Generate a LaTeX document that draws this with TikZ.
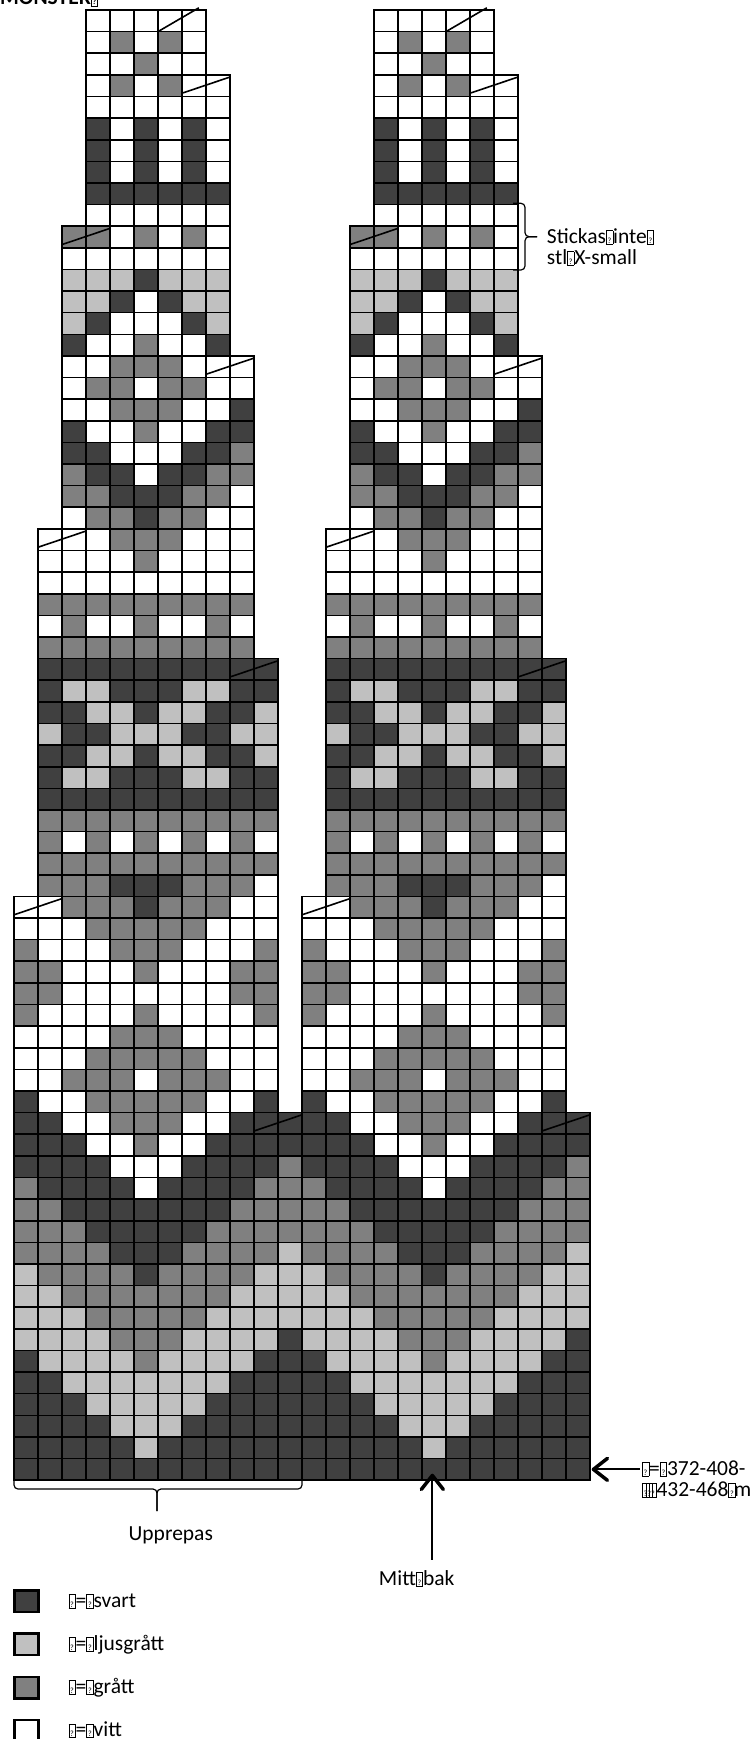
\documentclass[tikz,border=0pt]{standalone}
\usepackage{fontspec}
\setmainfont{Carlito}
\usetikzlibrary{arrows.meta,calc}
\definecolor{cD}{RGB}{64,64,64}
\definecolor{cG}{RGB}{128,128,128}
\definecolor{cL}{RGB}{192,192,192}
\definecolor{cW}{RGB}{255,255,255}
\newcommand{\qb}{{\setlength{\fboxsep}{0.5pt}\setlength{\fboxrule}{0.6pt}\fbox{\makebox[5pt]{\rule{0pt}{12pt}\fontsize{8}{8}\selectfont ?}}}}
\newcommand{\lblfont}{\fontsize{21.5}{21}\selectfont}

\begin{document}
\begin{tikzpicture}[x=1pt, y=-1pt,
  cell/.style={draw=black, line width=1.6pt},
  diag/.style={line width=1.6pt},
  lbl/.style={font=\lblfont, inner sep=0pt, align=left},
  brc/.style={line width=1.2pt, rounded corners=4pt},
  arr/.style={line width=2pt, -{Straight Barb[length=14pt, width=22pt, line width=3.5pt, round]}},
  keybox/.style={draw, line width=2.5pt, minimum width=24pt, minimum height=21.5pt, inner sep=0pt}]
\useasboundingbox (0,0) rectangle (753,1739);
\node[lbl, anchor=base west, font=\lblfont\bfseries] (title) at (0,5) {MÖNSTER\qb};
\begin{scope}[shift={(14,10)}, x=24pt, y=-21.62pt]
  \foreach \rep in {0,12}{
    \foreach \ri/\ci/\cells in {
      0/3/{W,W,W,W,W}, 1/3/{W,G,W,G,W}, 2/3/{W,W,G,W,W},
      3/3/{W,G,W,G,W,W}, 4/3/{W,W,W,W,W,W}, 5/3/{D,W,D,W,D,W},
      6/3/{D,W,D,W,D,W}, 7/3/{D,W,D,W,D,W}, 8/3/{D,D,D,D,D,D},
      9/3/{W,W,W,W,W,W},
      10/2/{G,G,W,G,W,G,W}, 11/2/{W,W,W,W,W,W,W}, 12/2/{L,L,L,D,L,L,L},
      13/2/{L,L,D,W,D,L,L}, 14/2/{L,D,W,W,W,D,L}, 15/2/{D,W,W,G,W,W,D},
      16/2/{W,W,G,G,G,W,W,W}, 17/2/{W,G,G,W,G,G,W,W}, 18/2/{W,W,G,G,G,W,W,D},
      19/2/{D,W,W,G,W,W,D,D}, 20/2/{D,D,W,W,W,D,D,G}, 21/2/{G,D,D,W,D,D,G,G},
      22/2/{G,G,D,D,D,G,G,W}, 23/2/{W,G,G,D,G,G,W,W},
      24/1/{W,W,W,G,G,G,W,W,W}, 25/1/{W,W,W,W,G,W,W,W,W},
      26/1/{W,W,W,W,W,W,W,W,W}, 27/1/{G,G,G,G,G,G,G,G,G},
      28/1/{W,G,W,W,G,W,W,G,W}, 29/1/{G,G,G,G,G,G,G,G,G},
      30/1/{D,D,D,D,D,D,D,D,D,D}, 31/1/{D,L,L,D,D,D,L,L,D,D},
      32/1/{D,D,L,L,D,L,L,D,D,L}, 33/1/{L,D,D,L,L,L,D,D,L,L},
      34/1/{D,D,L,L,D,L,L,D,D,L}, 35/1/{D,L,L,D,D,D,L,L,D,D},
      36/1/{D,D,D,D,D,D,D,D,D,D}, 37/1/{G,G,G,G,G,G,G,G,G,G},
      38/1/{G,W,G,W,G,W,G,W,G,W}, 39/1/{G,G,G,G,G,G,G,G,G,G},
      40/1/{G,G,G,D,D,D,G,G,G,W},
      41/0/{W,W,G,G,G,D,G,G,G,W,W}, 42/0/{W,W,W,G,G,G,G,G,W,W,W},
      43/0/{G,W,W,W,G,G,G,W,W,W,G}, 44/0/{G,G,W,W,W,G,W,W,W,G,G},
      45/0/{G,G,W,W,W,W,W,W,W,G,G}, 46/0/{G,W,W,W,W,G,W,W,W,W,G},
      47/0/{W,W,W,W,G,G,G,W,W,W,W}, 48/0/{W,W,W,G,G,G,G,G,W,W,W},
      49/0/{W,W,G,G,G,W,G,G,G,W,W}, 50/0/{D,W,W,G,G,G,G,G,W,W,D},
      51/0/{D,D,W,W,G,G,G,W,W,D,D,D}, 52/0/{D,D,D,W,W,G,W,W,D,D,D,D},
      53/0/{D,D,D,D,W,W,W,D,D,D,D,G}, 54/0/{G,D,D,D,D,W,D,D,D,D,G,G},
      55/0/{G,G,D,D,D,D,D,D,D,G,G,G}, 56/0/{G,G,G,D,D,D,D,D,G,G,G,G},
      57/0/{G,G,G,G,D,D,D,G,G,G,G,L}, 58/0/{L,G,G,G,G,D,G,G,G,G,L,L},
      59/0/{L,L,G,G,G,G,G,G,G,L,L,L}, 60/0/{L,L,L,G,G,G,G,G,L,L,L,L},
      61/0/{L,L,L,L,G,G,G,L,L,L,L,D}, 62/0/{D,L,L,L,L,G,L,L,L,L,D,D},
      63/0/{D,D,L,L,L,L,L,L,L,D,D,D}, 64/0/{D,D,D,L,L,L,L,L,D,D,D,D},
      65/0/{D,D,D,D,L,L,L,D,D,D,D,D}, 66/0/{D,D,D,D,D,L,D,D,D,D,D,D},
      67/0/{D,D,D,D,D,D,D,D,D,D,D,D}}{
      \foreach \clr [count=\n from 0] in \cells
        \filldraw[cell, fill=c\clr] ({\rep+\ci+\n},\ri) rectangle ++(1,1);}
    \draw[diag] (\rep+6,1) -- (\rep+7.7,-0.1);
    \foreach \ci/\ri in {7/3, 2/10, 8/16, 1/24, 9/30, 0/41, 10/51}
      \draw[diag] (\rep+\ci,\ri+0.85) -- (\rep+\ci+2,\ri+0.1);
  }
  \coordinate (rowtip) at (24.07,67.5);
  \coordinate (midtip) at (17.43,67.7);
\end{scope}
\draw[brc] (513,203.3) -| (525,236.7) -- (537,236.7);
\draw[brc] (513,270) -| (525,236.7) -- (537,236.7);
\node[lbl, anchor=base west] (stickas) at (546.7,264.3) {Stickas\qb inte\qb\\stl\qb X-small};
\node[lbl, anchor=base west] (langd) at (641.7,1496) {\qb=\qb372-408-\\\qb\kern-3.5pt\qb\kern-3.5pt\qb432-468\qb\kern-1.5pt m};
\draw[arr] ($(langd.west |- rowtip)+(-2,0)$) -- (rowtip);
\draw[brc] (14,1471) |- (157,1489) -- (157,1511);
\draw[brc] (302,1471) |- (157,1489) -- (157,1511);
\node[lbl, anchor=base] (upprepas) at (170.8,1540) {Upprepas};
\node[lbl, anchor=base] (mitt) at (416.7,1585) {Mitt\qb bak};
\draw[arr] ($(midtip |- mitt.north)+(0,-10)$) -- (midtip);
\foreach \clr/\txt [count=\i from 0] in {cD/svart, cL/ljusgrått, cG/grått, cW/vitt}{
  \node[keybox, fill=\clr] (key\i) at (26.7,{1601.3+43.1*\i}) {};
  \node[lbl, anchor=base west] (name\i) at (68.3,{1607.3+43.1*\i}) {\qb=\qb\txt};}
\end{tikzpicture}
\end{document}
